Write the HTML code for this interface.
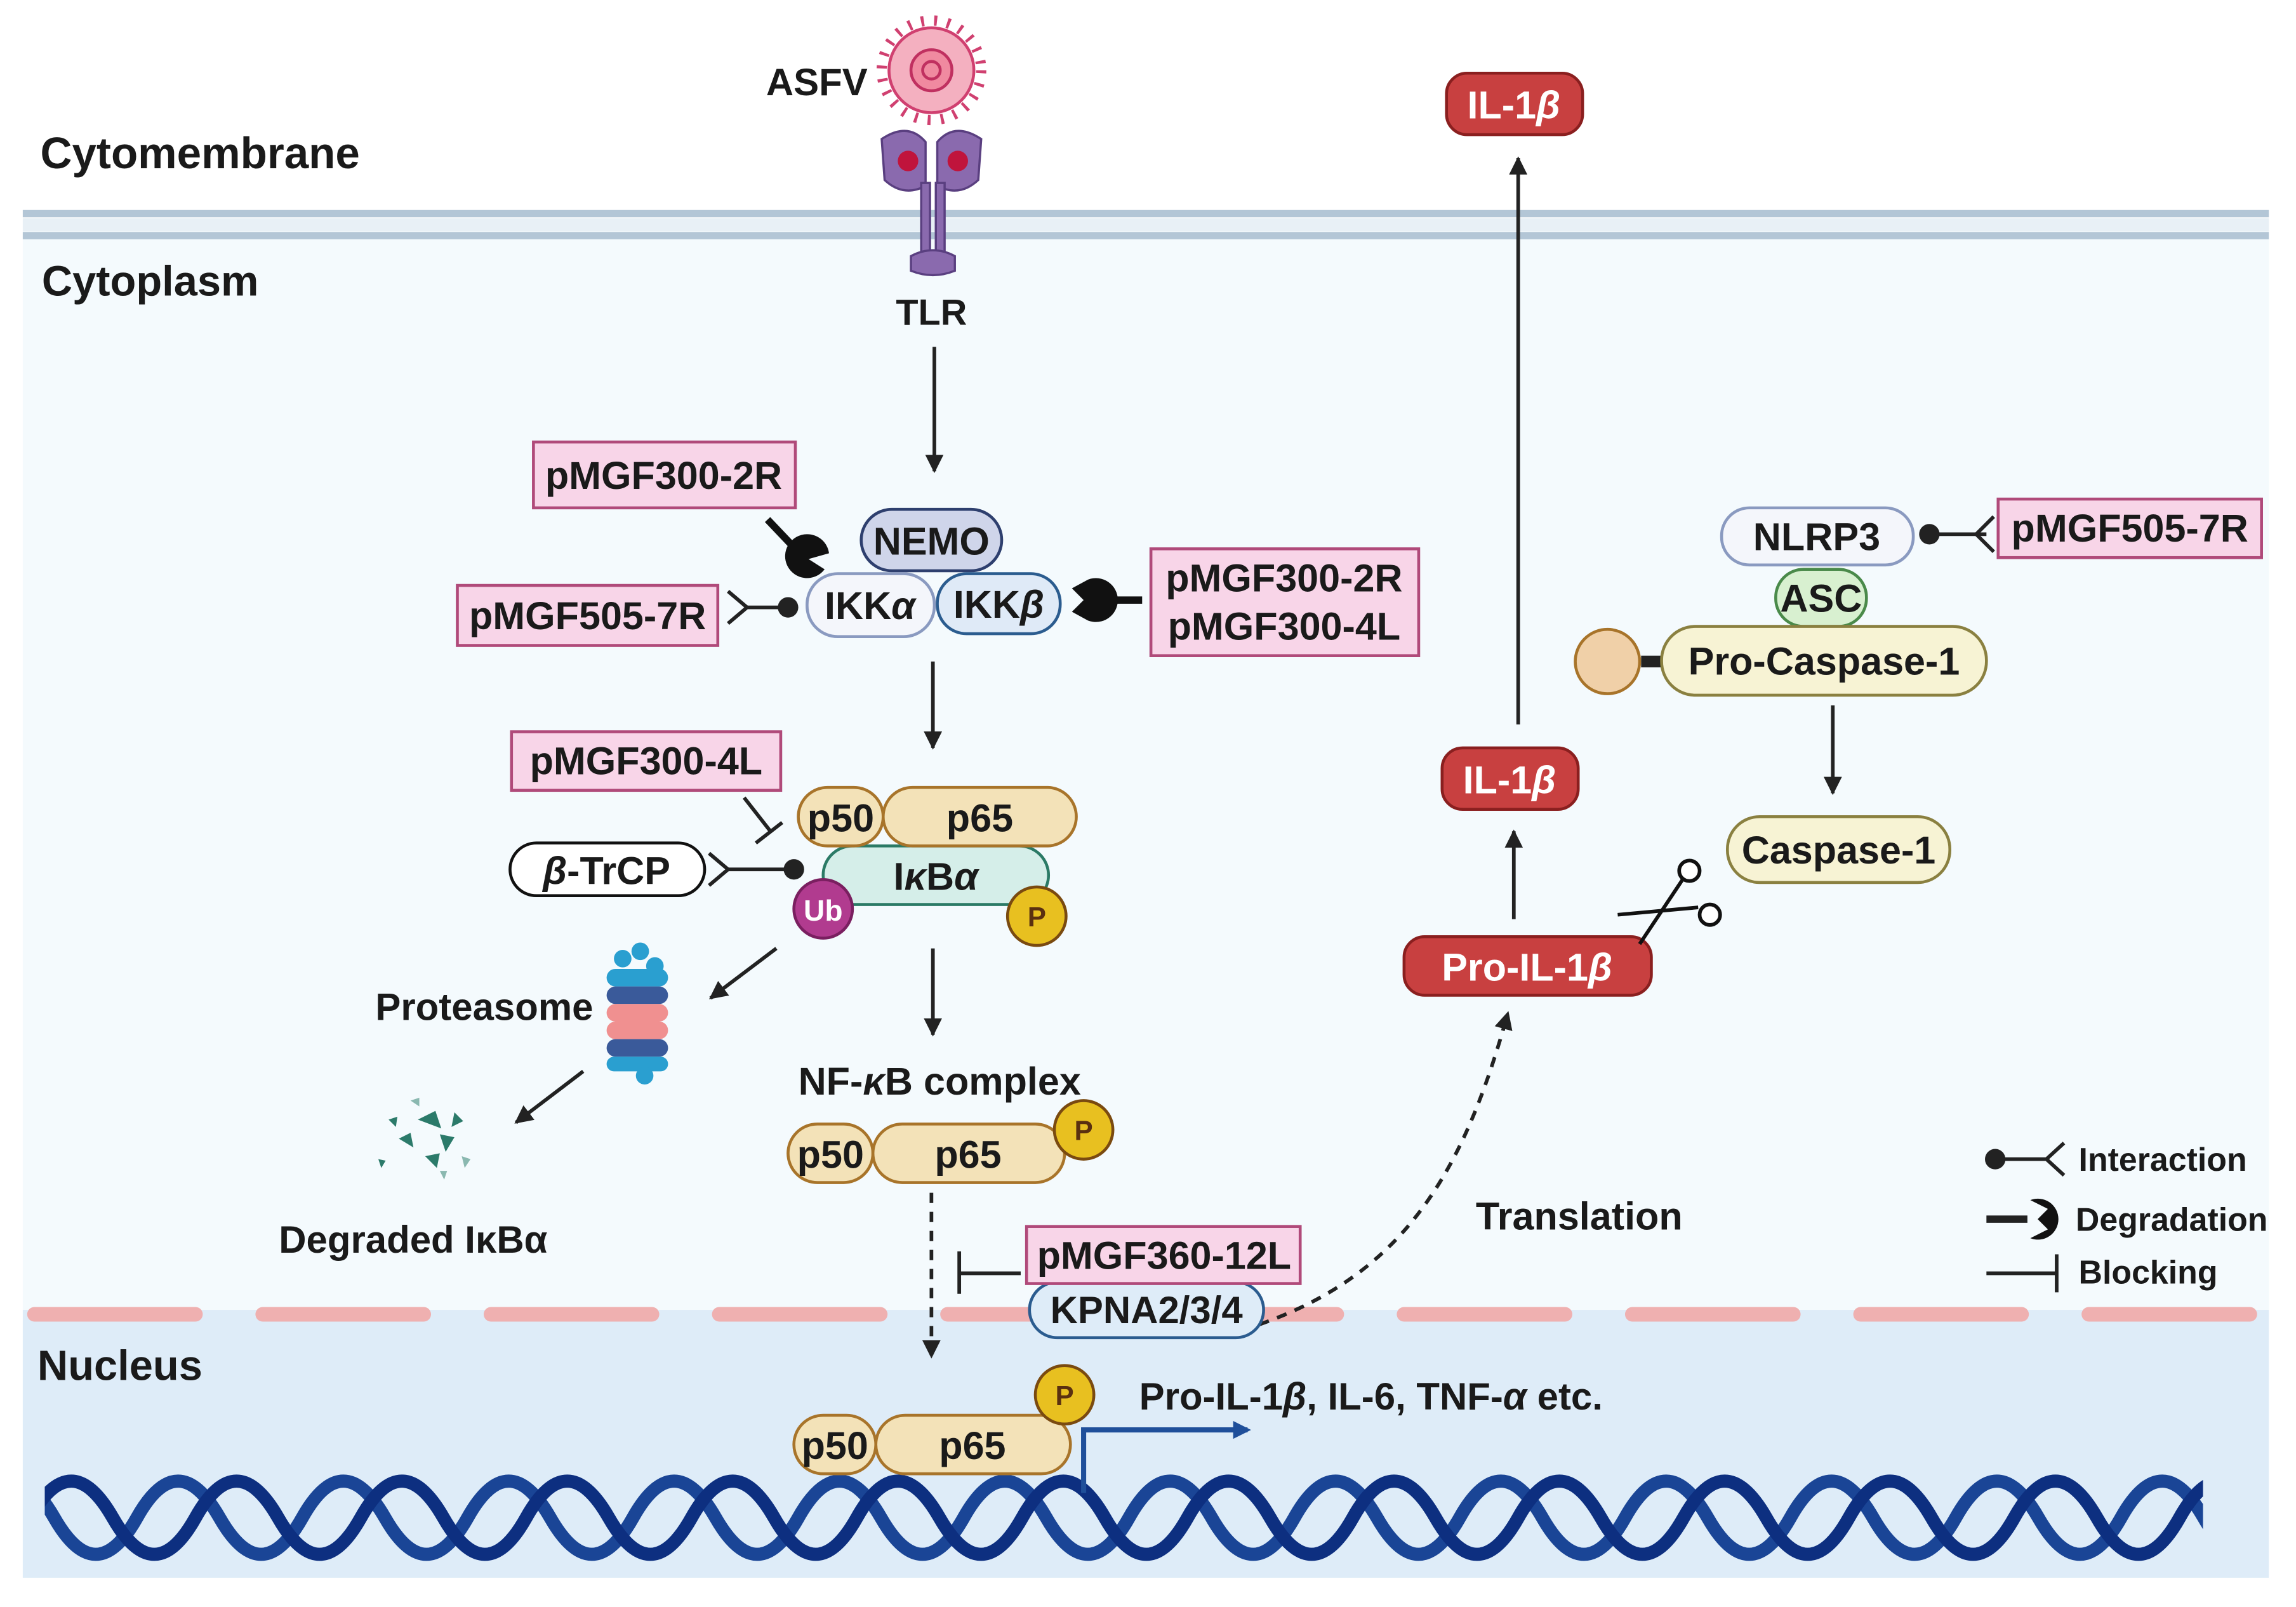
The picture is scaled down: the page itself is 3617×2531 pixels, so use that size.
<!DOCTYPE html>
<html><head><meta charset="utf-8"><style>
html,body{margin:0;padding:0;background:#fff}
svg{display:block}
text{font-family:"Liberation Sans",sans-serif;font-weight:bold;fill:#1a1a1a}
</style></head><body>
<svg width="3617" height="2531" viewBox="0 0 1568 1098" xmlns="http://www.w3.org/2000/svg">
<defs>
<marker id="ar" viewBox="0 0 10 10" refX="9" refY="5" markerWidth="5" markerHeight="5" orient="auto"><path d="M0,0 L10,5 L0,10 z" fill="#222"/></marker>
<marker id="arb" viewBox="0 0 10 10" refX="8" refY="5" markerWidth="3.5" markerHeight="3.5" orient="auto"><path d="M0,0 L10,5 L0,10 z" fill="#1f4f9a"/></marker>
<clipPath id="dc"><rect x="30" y="990" width="1475" height="90"/></clipPath>
</defs>
<rect x="15" y="150" width="1535" height="745" fill="#f4fafd"/>
<rect x="15" y="895" width="1535" height="183" fill="#deecf8"/>
<line x1="15" y1="146" x2="1550" y2="146" stroke="#b3c6d6" stroke-width="5"/>
<line x1="15" y1="161" x2="1550" y2="161" stroke="#b3c6d6" stroke-width="5"/>
<rect x="15" y="149" width="1535" height="9" fill="#e8f0f6"/>
<line x1="20" y1="898" x2="1550" y2="898" stroke="#efb0b0" stroke-width="10" stroke-linecap="round" stroke-dasharray="110 46" stroke-dashoffset="-3"/>
<g clip-path="url(#dc)" fill="none" stroke-width="9">
<path stroke="#1a4596" d="M-20 1037 q28 -50 56.5 0 t56.5 0 t56.5 0 t56.5 0 t56.5 0 t56.5 0 t56.5 0 t56.5 0 t56.5 0 t56.5 0 t56.5 0 t56.5 0 t56.5 0 t56.5 0 t56.5 0 t56.5 0 t56.5 0 t56.5 0 t56.5 0 t56.5 0 t56.5 0 t56.5 0 t56.5 0 t56.5 0 t56.5 0 t56.5 0 t56.5 0 t56.5 0 t56.5 0"/>
<path stroke="#0d2f80" d="M20 1037 q28 -50 56.5 0 t56.5 0 t56.5 0 t56.5 0 t56.5 0 t56.5 0 t56.5 0 t56.5 0 t56.5 0 t56.5 0 t56.5 0 t56.5 0 t56.5 0 t56.5 0 t56.5 0 t56.5 0 t56.5 0 t56.5 0 t56.5 0 t56.5 0 t56.5 0 t56.5 0 t56.5 0 t56.5 0 t56.5 0 t56.5 0 t56.5 0 t56.5 0 t56.5 0"/>
</g>
<text x="27" y="115" font-size="30">Cytomembrane</text>
<text x="28" y="202" font-size="29">Cytoplasm</text>
<text x="25" y="943" font-size="29">Nucleus</text>
<circle cx="636" cy="48" r="34" fill="none" stroke="#d04070" stroke-width="7" stroke-dasharray="2 7"/>
<circle cx="636" cy="48" r="29" fill="#f4b0c0" stroke="#d04070" stroke-width="2"/>
<circle cx="636" cy="48" r="14" fill="#f08aa0" stroke="#c03060" stroke-width="2"/>
<circle cx="636" cy="48" r="6" fill="none" stroke="#c03060" stroke-width="2"/>
<text x="523" y="65" font-size="26">ASFV</text>
<g fill="#8a6aae" stroke="#5a3f80" stroke-width="1.5">
<path d="M602 95 q18 -12 30 2 l0 30 q-15 8 -28 -4 z"/>
<path d="M670 95 q-18 -12 -30 2 l0 30 q15 8 28 -4 z"/>
<rect x="629" y="125" width="6" height="50"/>
<rect x="639" y="125" width="6" height="50"/>
<path d="M622 175 q15 -8 30 0 l0 10 q-15 6 -30 0 z"/>
</g>
<circle cx="620" cy="110" r="7" fill="#c0143c"/>
<circle cx="654" cy="110" r="7" fill="#c0143c"/>
<text x="636" y="222" font-size="25" text-anchor="middle">TLR</text>
<g stroke="#222" stroke-width="2.5" fill="none">
<line x1="638" y1="237" x2="638" y2="322" marker-end="url(#ar)"/>
<line x1="637" y1="452" x2="637" y2="511" marker-end="url(#ar)"/>
<line x1="637" y1="648" x2="637" y2="707" marker-end="url(#ar)"/>
<line x1="530" y1="648" x2="485" y2="682" marker-end="url(#ar)"/>
<line x1="398" y1="732" x2="352" y2="767" marker-end="url(#ar)"/>
<line x1="636" y1="815" x2="636" y2="927" stroke-dasharray="7 6" marker-end="url(#ar)"/>
<path d="M860 905 C 960 870, 1000 800, 1030 692" stroke-dasharray="7 6" marker-end="url(#ar)"/>
<line x1="1034" y1="628" x2="1034" y2="568" marker-end="url(#ar)"/>
<line x1="1037" y1="495" x2="1037" y2="108" marker-end="url(#ar)"/>
<line x1="1252" y1="482" x2="1252" y2="542" marker-end="url(#ar)"/>
</g>
<g fill="#f8d5e8" stroke="#b04a7a" stroke-width="2">
<rect x="364" y="302" width="179" height="45"/>
<rect x="312" y="400" width="178" height="41"/>
<rect x="786" y="375" width="183" height="73"/>
<rect x="349" y="500" width="184" height="40"/>
<rect x="1365" y="341" width="180" height="40"/>
</g>
<g font-size="26.5">
<text x="453" y="334" text-anchor="middle">pMGF300-2R</text>
<text x="401" y="430" text-anchor="middle">pMGF505-7R</text>
<text x="877" y="404" text-anchor="middle">pMGF300-2R</text>
<text x="877" y="437" text-anchor="middle">pMGF300-4L</text>
<text x="441" y="529" text-anchor="middle">pMGF300-4L</text>
<text x="1455" y="370" text-anchor="middle">pMGF505-7R</text>
</g>
<rect x="588" y="348" width="96" height="42" rx="21" fill="#cfd5ea" stroke="#2e3f6e" stroke-width="2"/>
<text x="636" y="379" font-size="26.5" text-anchor="middle">NEMO</text>
<rect x="551" y="392" width="87" height="43" rx="21" fill="#f4f6fb" stroke="#8a9ac0" stroke-width="2"/>
<text x="594" y="423" font-size="26.5" text-anchor="middle">IKK<tspan font-style="italic">α</tspan></text>
<rect x="640" y="392" width="84" height="41" rx="20" fill="#dfeaf7" stroke="#2b5c8f" stroke-width="2"/>
<text x="682" y="422" font-size="26.5" text-anchor="middle">IKK<tspan font-style="italic">β</tspan></text>
<g fill="#111" stroke="#111">
<line x1="524" y1="355" x2="543" y2="375" stroke-width="5"/>
<path d="M551 365 A15 15 0 1 0 563 389 L552 382 L566 378 A15 15 0 0 0 551 365 z" stroke="none"/>
<line x1="750" y1="410" x2="780" y2="410" stroke-width="5"/>
<path d="M740 396 A15 15 0 1 1 740 424 L729 418 L737 410 L729 402 z" stroke="none" transform="translate(3,0)"/>
</g>
<g stroke="#222" stroke-width="2.5" fill="none">
<line x1="510" y1="415" x2="538" y2="415"/><path d="M497 404 L510 415 L497 426"/>
<line x1="497" y1="594" x2="542" y2="594"/><path d="M484 583 L497 594 L484 605"/>
<line x1="1318" y1="365" x2="1357" y2="365"/><path d="M1362 353 L1350 365 L1362 377"/>
<line x1="508" y1="545" x2="526" y2="568"/><line x1="516" y1="576" x2="534" y2="562"/>
<line x1="655" y1="870" x2="697" y2="870"/><line x1="655" y1="855" x2="655" y2="884"/>
</g>
<circle cx="538" cy="415" r="7" fill="#222"/>
<circle cx="542" cy="594" r="7" fill="#222"/>
<circle cx="1318" cy="365" r="7" fill="#222"/>
<rect x="562" y="578" width="154" height="40" rx="20" fill="#d5eee9" stroke="#2b7a66" stroke-width="2"/>
<text x="639" y="608" font-size="26.5" text-anchor="middle">I<tspan font-style="italic">κ</tspan>B<tspan font-style="italic">α</tspan></text>
<g fill="#f3e2b8" stroke="#a8742a" stroke-width="2">
<rect x="545" y="538" width="58" height="40" rx="20"/>
<rect x="603" y="538" width="132" height="40" rx="20"/>
<rect x="538" y="768" width="58" height="40" rx="20"/>
<rect x="596" y="768" width="131" height="40" rx="20"/>
<rect x="542" y="967" width="56" height="40" rx="20"/>
<rect x="598" y="967" width="133" height="40" rx="20"/>
</g>
<g font-size="26.5" text-anchor="middle">
<text x="574" y="568">p50</text><text x="669" y="568">p65</text>
<text x="567" y="798">p50</text><text x="661" y="798">p65</text>
<text x="570" y="997">p50</text><text x="664" y="997">p65</text>
</g>
<circle cx="562" cy="621" r="20" fill="#b13b8f" stroke="#7a1f60" stroke-width="2"/>
<text x="562" y="629" font-size="20" text-anchor="middle" style="fill:#fff">Ub</text>
<g fill="#e8c020" stroke="#7a4a10" stroke-width="2">
<circle cx="708" cy="626" r="20"/><circle cx="740" cy="772" r="20"/><circle cx="727" cy="953" r="20"/>
</g>
<g font-size="19" text-anchor="middle">
<text x="708" y="633" style="fill:#5a3010">P</text><text x="740" y="779" style="fill:#5a3010">P</text><text x="727" y="960" style="fill:#5a3010">P</text>
</g>
<rect x="348" y="576" width="133" height="36" rx="18" fill="#fff" stroke="#111" stroke-width="2"/>
<text x="414" y="604" font-size="26.5" text-anchor="middle"><tspan font-style="italic">β</tspan>-TrCP</text>
<text x="256" y="697" font-size="26">Proteasome</text>
<g stroke="none">
<circle cx="425" cy="655" r="6" fill="#2a9fd0"/><circle cx="437" cy="650" r="6" fill="#2a9fd0"/><circle cx="447" cy="660" r="6" fill="#2a9fd0"/>
<rect x="414" y="662" width="42" height="12" rx="6" fill="#2a9fd0"/>
<rect x="414" y="674" width="42" height="12" rx="6" fill="#3a5a9a"/>
<rect x="414" y="686" width="42" height="12" rx="6" fill="#f09090"/>
<rect x="414" y="698" width="42" height="12" rx="6" fill="#f09090"/>
<rect x="414" y="710" width="42" height="12" rx="6" fill="#3a5a9a"/>
<rect x="414" y="722" width="42" height="10" rx="5" fill="#2a9fd0"/>
<circle cx="440" cy="735" r="6" fill="#2a9fd0"/>
</g>
<g fill="#2b7a6a">
<path d="M285 765 l12 -6 l4 12 z"/><path d="M300 775 l10 2 l-6 10 z"/><path d="M272 778 l8 -4 l2 10 z"/>
<path d="M290 790 l10 -2 l-2 10 z"/><path d="M310 760 l6 6 l-8 4 z"/><path d="M265 765 l6 -2 l-1 7 z"/>
<path d="M315 790 l6 2 l-4 6 z" fill="#8ab8b0"/><path d="M258 792 l5 1 l-3 5 z"/><path d="M280 752 l6 -2 l0 6 z" fill="#8ab8b0"/>
<path d="M300 800 l5 0 l-2 6 z" fill="#8ab8b0"/>
</g>
<text x="190" y="856" font-size="26">Degraded IκBα</text>
<text x="545" y="748" font-size="26.5">NF-<tspan font-style="italic">κ</tspan>B complex</text>
<rect x="703" y="876" width="160" height="38" rx="19" fill="#deecf8" stroke="#2b5c8f" stroke-width="2"/>
<text x="783" y="904" font-size="26" text-anchor="middle">KPNA2/3/4</text>
<rect x="701" y="838" width="187" height="39" fill="#f8d5e8" stroke="#b04a7a" stroke-width="2"/>
<text x="795" y="867" font-size="26.5" text-anchor="middle">pMGF360-12L</text>
<path d="M740 1020 L740 977 L852 977" fill="none" stroke="#1f4f9a" stroke-width="3.5" marker-end="url(#arb)"/>
<text x="778" y="963" font-size="26">Pro-IL-1<tspan font-style="italic">β</tspan>, IL-6, TNF-<tspan font-style="italic">α</tspan> etc.</text>
<text x="1008" y="840" font-size="26.5">Translation</text>
<g fill="#c84040" stroke="#8a1f1f" stroke-width="2">
<rect x="959" y="640" width="169" height="40" rx="14"/>
<rect x="985" y="511" width="93" height="42" rx="14"/>
<rect x="988" y="50" width="93" height="42" rx="14"/>
</g>
<g font-size="26.5" text-anchor="middle">
<text x="1043" y="670" style="fill:#fff">Pro-IL-1<tspan font-style="italic">β</tspan></text>
<text x="1031" y="542" style="fill:#fff">IL-1<tspan font-style="italic">β</tspan></text>
<text x="1034" y="81" style="fill:#fff">IL-1<tspan font-style="italic">β</tspan></text>
</g>
<g stroke="#111" stroke-width="2.5" fill="none">
<line x1="1105" y1="625" x2="1160" y2="620"/><line x1="1120" y1="645" x2="1150" y2="600"/>
<circle cx="1154" cy="595" r="7" fill="#fff"/><circle cx="1168" cy="625" r="7" fill="#fff"/>
</g>
<rect x="1176" y="347" width="131" height="39" rx="19" fill="#f4f6fb" stroke="#8a9ac0" stroke-width="2"/>
<text x="1241" y="376" font-size="26.5" text-anchor="middle">NLRP3</text>
<rect x="1213" y="389" width="62" height="39" rx="19" fill="#d8f0d0" stroke="#4a8a4a" stroke-width="2"/>
<text x="1244" y="418" font-size="26.5" text-anchor="middle">ASC</text>
<rect x="1121" y="448" width="16" height="8" fill="#222"/>
<circle cx="1098" cy="452" r="22" fill="#f0d0a8" stroke="#a8742a" stroke-width="2"/>
<rect x="1135" y="428" width="222" height="47" rx="23" fill="#f7f3d4" stroke="#8a8040" stroke-width="2"/>
<text x="1246" y="461" font-size="26.5" text-anchor="middle">Pro-Caspase-1</text>
<rect x="1180" y="558" width="152" height="45" rx="22" fill="#f7f3d4" stroke="#8a8040" stroke-width="2"/>
<text x="1256" y="590" font-size="26.5" text-anchor="middle">Caspase-1</text>
<g stroke="#222" stroke-width="2.5" fill="none">
<line x1="1363" y1="792" x2="1398" y2="792"/><path d="M1410 781 L1398 792 L1410 803"/>
<line x1="1357" y1="833" x2="1385" y2="833" stroke-width="5"/>
<line x1="1357" y1="870" x2="1405" y2="870"/><line x1="1405" y1="857" x2="1405" y2="883"/>
</g>
<circle cx="1363" cy="792" r="7" fill="#222"/>
<path d="M1385 820 A14 14 0 1 1 1385 846 L1397 840 L1390 833 L1397 826 z" fill="#111" transform="translate(2,0)"/>
<text x="1420" y="800" font-size="22.5">Interaction</text>
<text x="1418" y="841" font-size="22.5">Degradation</text>
<text x="1420" y="877" font-size="22.5">Blocking</text>
</svg>
</body></html>
